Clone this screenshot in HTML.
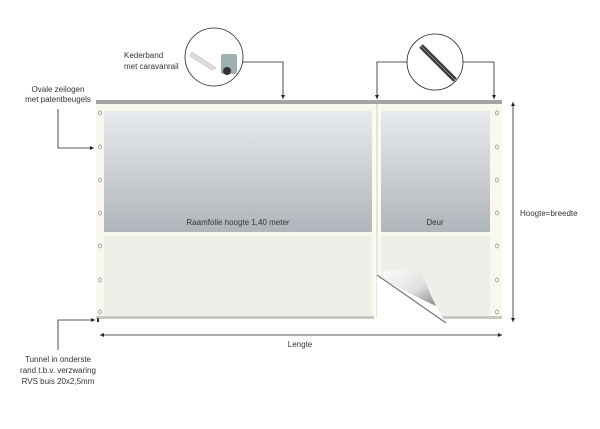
<!DOCTYPE html>
<html><head><meta charset="utf-8"><style>
body{margin:0;background:#fff;}
svg text{font-family:"Liberation Sans",sans-serif;font-size:8px;fill:#333;}
</style></head><body>
<svg width="600" height="424" viewBox="0 0 600 424" xmlns="http://www.w3.org/2000/svg">
<defs>
<linearGradient id="win" x1="0" y1="0" x2="0" y2="1"><stop offset="0" stop-color="#e8ebee"/><stop offset="1" stop-color="#b0b5ba"/></linearGradient>
<linearGradient id="curl" x1="0" y1="0" x2="1" y2="1"><stop offset="0" stop-color="#fff"/><stop offset="0.6" stop-color="#e2e2e2"/><stop offset="1" stop-color="#888"/></linearGradient>
<marker id="ar" markerWidth="6" markerHeight="6" refX="5" refY="3" orient="auto"><path d="M0,0.5 L5,3 L0,5.5z" fill="#222"/></marker>
</defs>
<rect x="96" y="104" width="406" height="214" fill="#f8f8ee"/>
<rect x="104" y="111" width="268" height="121" fill="url(#win)"/>
<rect x="381" y="111" width="109" height="121" fill="url(#win)"/>
<rect x="104" y="236" width="268" height="80" fill="#efefe9"/>
<rect x="381" y="236" width="109" height="80" fill="#efefe9"/>
<rect x="374" y="104" width="6" height="214" fill="#fbfbf4"/>
<line x1="377" y1="104" x2="377" y2="318" stroke="#ccc" stroke-width="1"/>
<rect x="96" y="100" width="406" height="4" fill="#a4a4a4"/>
<rect x="96" y="316" width="278" height="3" fill="#c8c8c0"/>
<rect x="440" y="316" width="62" height="3" fill="#c8c8c0"/>
<path d="M377,320 L377,275 Q400,286 436,306 L446,323 Z" fill="#fff"/>
<path d="M377,275 Q382,270 420,268 Q428,290 436,306 Q405,292 377,275Z" fill="url(#curl)"/>
<path d="M377,275 L446,323" stroke="#777" stroke-width="1.2"/>
<g fill="none" stroke="#888" stroke-width="0.7">
<ellipse cx="100" cy="113" rx="1.5" ry="2"/><ellipse cx="100" cy="147" rx="1.5" ry="2"/><ellipse cx="100" cy="180" rx="1.5" ry="2"/><ellipse cx="100" cy="213" rx="1.5" ry="2"/><ellipse cx="100" cy="246" rx="1.5" ry="2"/><ellipse cx="100" cy="280" rx="1.5" ry="2"/><ellipse cx="100" cy="312" rx="1.5" ry="2"/>
<ellipse cx="497" cy="113" rx="1.5" ry="2"/><ellipse cx="497" cy="147" rx="1.5" ry="2"/><ellipse cx="497" cy="180" rx="1.5" ry="2"/><ellipse cx="497" cy="213" rx="1.5" ry="2"/><ellipse cx="497" cy="246" rx="1.5" ry="2"/><ellipse cx="497" cy="280" rx="1.5" ry="2"/><ellipse cx="497" cy="312" rx="1.5" ry="2"/>
</g>
<rect x="97" y="318" width="2" height="4" fill="#333"/>
<text x="238" y="225" text-anchor="middle">Raamfolie hoogte 1,40 meter</text>
<text x="435" y="225" text-anchor="middle">Deur</text>
<g stroke="#222" stroke-width="0.8" fill="none">
<polyline points="243,62 283,62 283,99" marker-end="url(#ar)"/>
<polyline points="407,62 377,62 377,99" marker-end="url(#ar)"/>
<polyline points="463,62 494,62 494,99" marker-end="url(#ar)"/>
<polyline points="58,109 58,148 94,148" marker-end="url(#ar)"/>
<polyline points="58,350 58,320 95,320" marker-end="url(#ar)"/>
<line x1="160" y1="335" x2="100" y2="335" marker-end="url(#ar)"/>
<line x1="160" y1="335" x2="502" y2="335" marker-end="url(#ar)"/>
<line x1="513" y1="200" x2="513" y2="102" marker-end="url(#ar)"/>
<line x1="513" y1="200" x2="513" y2="322" marker-end="url(#ar)"/>
</g>
<circle cx="214" cy="57" r="29" fill="#fff" stroke="#222" stroke-width="0.8"/>
<path d="M192,52 L216,68 L212,70 L190,56Z" fill="#ddd" stroke="#aaa" stroke-width="0.5"/>
<rect x="221" y="54" width="16" height="20" rx="2" fill="#9fb0b0"/>
<circle cx="227" cy="71" r="4" fill="#333"/>
<circle cx="435" cy="62" r="28" fill="#fff" stroke="#222" stroke-width="0.8"/>
<line x1="421" y1="46" x2="455" y2="80" stroke="#333" stroke-width="5"/>
<line x1="421" y1="46" x2="455" y2="80" stroke="#888" stroke-width="1"/>
<text x="124" y="58">Kederband</text>
<text x="124" y="69">met caravanrail</text>
<text x="58" y="92" text-anchor="middle">Ovale zeilogen</text>
<text x="58" y="102" text-anchor="middle">met patentbeugels</text>
<text x="300" y="347" text-anchor="middle">Lengte</text>
<text x="520" y="216">Hoogte=breedte</text>
<text x="58" y="362" text-anchor="middle">Tunnel in onderste</text>
<text x="58" y="373" text-anchor="middle">rand t.b.v. verzwaring</text>
<text x="58" y="384" text-anchor="middle">RVS buis 20x2,5mm</text>
</svg>
</body></html>
